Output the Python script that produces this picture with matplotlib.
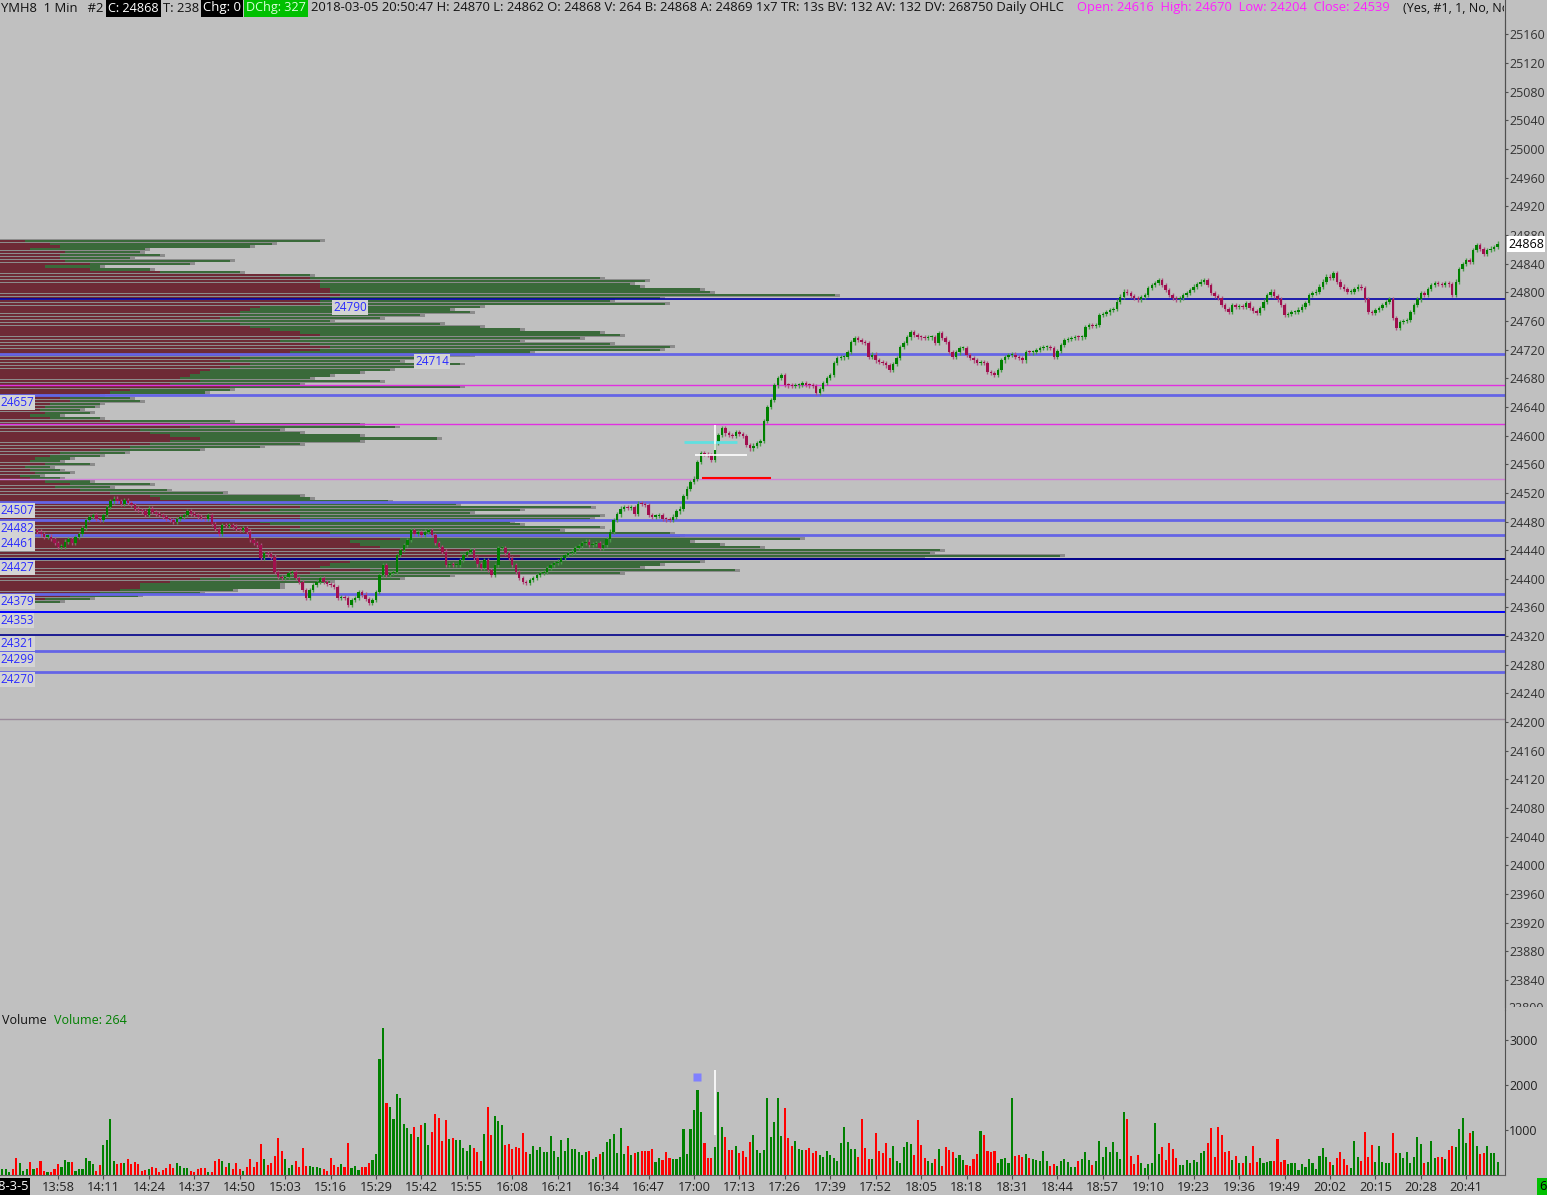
import numpy as np
import matplotlib.pyplot as plt
from matplotlib.patches import Rectangle
from matplotlib.transforms import Bbox, TransformedBbox, IdentityTransform

plt.rcParams['font.family'] = ['Open Sans', 'DejaVu Sans']

# ---- data --------------------------------------------------------------
first_open = 24460
closes = [
    24462, 24465, 24468, 24464, 24460, 24463, 24466, 24470, 24467, 24468,
    24466, 24462, 24459, 24459, 24456, 24450, 24445, 24445, 24452, 24455,
    24450, 24458, 24463, 24471, 24482, 24486, 24489, 24484, 24482, 24489,
    24500, 24508, 24512, 24509, 24505, 24510, 24506, 24503, 24498, 24496,
    24494, 24489, 24498, 24493, 24491, 24489, 24486, 24484, 24482, 24480,
    24484, 24486, 24489, 24494, 24491, 24489, 24487, 24485, 24484, 24489,
    24477, 24470, 24463, 24475, 24474, 24475, 24473, 24470, 24468, 24471,
    24466, 24454, 24450, 24447, 24429, 24436, 24434, 24431, 24410, 24403,
    24401, 24403, 24408, 24410, 24401, 24396, 24384, 24373, 24384, 24391,
    24396, 24401, 24396, 24393, 24391, 24389, 24373, 24375, 24373, 24364,
    24370, 24373, 24382, 24378, 24372, 24366, 24370, 24382, 24405, 24419,
    24405, 24408, 24410, 24433, 24440, 24447, 24454, 24468, 24463, 24465,
    24461, 24466, 24468, 24461, 24450, 24444, 24438, 24419, 24421, 24419,
    24419, 24426, 24433, 24437, 24440, 24429, 24420, 24415, 24426, 24412,
    24405, 24419, 24443, 24443, 24436, 24429, 24419, 24410, 24401, 24396,
    24394, 24398, 24401, 24405, 24408, 24410, 24415, 24419, 24422, 24424,
    24429, 24433, 24436, 24438, 24443, 24446, 24450, 24452, 24447, 24449,
    24450, 24443, 24447, 24455, 24466, 24482, 24490, 24498, 24500, 24499,
    24500, 24491, 24505, 24504, 24503, 24489, 24487, 24488, 24489, 24484,
    24483, 24482, 24487, 24494, 24498, 24515, 24526, 24535, 24540, 24563,
    24575, 24574, 24573, 24566, 24590, 24601, 24610, 24603, 24601, 24599,
    24605, 24602, 24599, 24587, 24582, 24586, 24589, 24592, 24620, 24640,
    24650, 24670, 24680, 24685, 24671, 24670, 24669, 24670, 24671, 24673,
    24671, 24670, 24669, 24660, 24665, 24673, 24680, 24685, 24701, 24708,
    24709, 24710, 24717, 24730, 24736, 24733, 24731, 24729, 24710, 24713,
    24705, 24703, 24701, 24698, 24692, 24700, 24708, 24724, 24729, 24737,
    24745, 24740, 24738, 24737, 24736, 24737, 24738, 24729, 24743, 24736,
    24731, 24717, 24710, 24716, 24722, 24722, 24712, 24708, 24705, 24701,
    24703, 24701, 24689, 24687, 24685, 24692, 24705, 24710, 24712, 24713,
    24710, 24708, 24705, 24717, 24716, 24717, 24719, 24722, 24723, 24724,
    24722, 24710, 24718, 24726, 24733, 24735, 24736, 24738, 24737, 24738,
    24752, 24754, 24753, 24754, 24768, 24770, 24772, 24775, 24777, 24787,
    24794, 24801, 24799, 24795, 24792, 24790, 24793, 24796, 24806, 24810,
    24813, 24817, 24810, 24803, 24796, 24792, 24790, 24792, 24796, 24799,
    24803, 24808, 24812, 24815, 24817, 24810, 24799, 24795, 24792, 24782,
    24777, 24773, 24782, 24780, 24781, 24780, 24785, 24778, 24774, 24771,
    24778, 24787, 24796, 24801, 24795, 24790, 24782, 24768, 24770, 24773,
    24773, 24776, 24780, 24785, 24796, 24799, 24801, 24808, 24815, 24822,
    24820, 24827, 24815, 24808, 24805, 24801, 24801, 24805, 24808, 24806,
    24790, 24773, 24771, 24775, 24778, 24782, 24786, 24790, 24764, 24750,
    24759, 24760, 24761, 24773, 24782, 24790, 24799, 24796, 24805, 24810,
    24813, 24812, 24810, 24813, 24811, 24796, 24815, 24833, 24840, 24845,
    24843, 24859, 24866, 24860, 24854, 24859, 24861, 24863, 24868,
]

volumes = [
    126, 126, 74, 126, 370, 259, 96, 141, 281, 126,
    148, 311, 89, 59, 59, 133, 244, 170, 333, 281,
    281, 96, 126, 126, 370, 311, 252, 96, 222, 666,
    777, 1243, 311, 244, 259, 274, 348, 244, 289, 244,
    89, 111, 126, 185, 148, 74, 111, 148, 244, 163,
    274, 200, 148, 163, 96, 74, 126, 148, 148, 74,
    59, 311, 355, 311, 170, 259, 126, 259, 133, 96,
    185, 348, 185, 281, 688, 355, 222, 259, 422, 829,
    533, 348, 148, 215, 311, 170, 592, 200, 207, 170,
    170, 148, 126, 89, 370, 222, 185, 237, 170, 703,
    148, 200, 111, 185, 185, 274, 333, 459, 2568, 3256,
    1591, 1517, 1243, 1791, 1702, 1125, 1036, 910, 1073, 851,
    1110, 1147, 666, 962, 1347, 1273, 762, 1221, 792, 814,
    777, 777, 607, 540, 666, 592, 518, 311, 903, 1517,
    888, 1310, 1206,
    1110, 666, 688, 577, 629, 592, 925, 503, 466, 644,
    555, 614, 511, 511, 866, 540, 400, 777, 533, 821,
    570, 570, 503, 437, 503, 525, 355, 400, 459, 511,
    733, 799, 903, 481, 1043, 466, 636, 451, 488, 503,
    525, 533, 533, 570, 281, 377, 333, 518, 370, 348,
    348, 392, 1021, 459, 1021, 1443, 1887, 1406, 703, 377,
    377, 622, 1843, 1066, 836, 555, 562, 644, 481, 533,
    407, 733, 881, 555, 488, 562, 1709, 836, 1184, 1709,
    866, 1480, 814, 644, 755, 577, 555, 555, 599, 481,
    540, 437, 400, 540, 444, 377, 318, 703, 1066, 725,
    577, 570, 392, 1243, 599, 355, 355, 932, 540, 488,
    710, 377, 644, 311, 274, 622, 733, 681, 444, 1221,
    659, 370, 311, 259, 355, 577, 200, 614, 555, 511,
    370, 444, 333, 229, 207, 348, 466, 977, 888, 533,
    511, 533, 259,
    355, 370, 259, 1717, 422, 444, 407, 466, 370, 355,
    340, 303, 533, 311, 207, 237, 200, 311, 355, 289,
    185, 185, 303, 348, 503, 333, 229, 318, 755, 407,
    622, 518, 725, 518, 348, 1391, 1243, 429, 244, 444,
    266, 148, 244, 259, 1154, 466, 629, 326, 718, 570,
    370, 229, 215, 326, 259, 333, 296, 481, 540, 710,
    1043, 400, 1058, 888, 518, 540, 333, 422, 259, 259,
    422, 259, 651, 296, 377, 259, 289, 318, 318, 792,
    296, 333, 244, 259, 259, 111, 244, 185, 355, 259,
    133, 422, 592, 392, 296, 222, 370, 518, 348, 222,
    163, 755, 400, 303, 947, 392, 659, 296, 651, 281,
    274, 266, 932, 481, 481, 377, 518, 259, 392, 844,
    681, 274, 281, 762, 370, 392, 392, 363, 555, 644,
    614, 1014, 1258, 703, 925, 969, 651, 459, 481, 636,
    496, 496, 281,
]

time_labels = ['13:58', '14:11', '14:24', '14:37', '14:50', '15:03', '15:16', '15:29',
               '15:42', '15:55', '16:08', '16:21', '16:34', '16:47', '17:00', '17:13',
               '17:26', '17:39', '17:52', '18:05', '18:18', '18:31', '18:44', '18:57',
               '19:10', '19:23', '19:36', '19:49', '20:02', '20:15', '20:28', '20:41']
first_label_bar = 16
label_step = 13

# volume profile, 4-point rows from 24872 down to 24368
profile_top = 24872
profile_total = [
    320, 272, 250, 145, 140, 160, 130, 230, 190, 100,
    150, 240, 310, 600, 645, 630, 640, 700, 710, 835,
    660, 610, 665, 480, 450, 470, 420, 380, 330, 440,
    480, 520, 600, 620, 580, 520, 610, 670, 660, 530,
    470, 440, 400, 460, 430, 390, 360, 330, 310, 380,
    300, 460, 230, 205, 100, 130, 140, 100, 95, 80,
    90, 60, 100, 230, 360, 395, 280, 300, 360, 437,
    360, 300, 260, 200, 125, 100, 70, 60, 90, 50,
    60, 70, 40, 60, 90, 150, 110, 167, 223, 300,
    310, 388, 456, 591, 520, 470, 600, 590, 510, 520,
    600, 560, 670, 680, 800, 690, 720, 760, 940, 930,
    1060, 920, 700, 660, 640, 735, 620, 450, 400, 330,
    280, 280, 233, 200, 138, 90, 60,
]
profile_sell = [
    25, 50, 60, 30, 65, 60, 60, 65, 90, 45,
    90, 160, 280, 310, 320, 320, 320, 330, 330, 340,
    330, 320, 320, 260, 250, 240, 240, 220, 200, 240,
    250, 270, 300, 320, 300, 280, 310, 330, 320, 290,
    260, 240, 220, 250, 230, 210, 200, 190, 180, 200,
    170, 230, 130, 110, 50, 60, 70, 50, 45, 40,
    45, 30, 50, 110, 170, 190, 140, 150, 170, 200,
    170, 150, 130, 100, 60, 50, 35, 30, 45, 25,
    30, 35, 20, 30, 45, 70, 55, 80, 110, 150,
    160, 190, 230, 300, 270, 240, 300, 300, 260, 270,
    300, 290, 330, 340, 400, 350, 360, 380, 470, 460,
    520, 460, 350, 330, 320, 370, 310, 230, 200, 170,
    140, 140, 120, 100, 70, 45, 30,
]

# key levels: (price, colour, width, label x in px)
levels = [
    (24790, '#0000a8', 1.2, 333),
    (24714, '#6464e6', 2.0, 415),
    (24657, '#6464e6', 2.0, 0),
    (24507, '#6464e6', 2.0, 0),
    (24482, '#6464e6', 2.0, 0),
    (24461, '#6464e6', 2.0, 0),
    (24427, '#00008b', 1.4, 0),
    (24379, '#6464e6', 2.0, 0),
    (24353, '#0000ff', 1.4, 0),
    (24321, '#00008b', 1.2, 0),
    (24299, '#6464e6', 2.0, 0),
    (24270, '#6464e6', 2.0, 0),
]
daily_ohlc = {'Open': 24616, 'High': 24670, 'Low': 24204, 'Close': 24539}
last_price = 24868
last_volume = 264

# ---- figure ------------------------------------------------------------
W, H = 1547, 1195
BG = '#c0c0c0'
fig = plt.figure(figsize=(W / 100, H / 100), dpi=100)
fig.patch.set_facecolor(BG)


def rect(x0, y0, x1, y1):
    return [x0 / W, 1 - y1 / H, (x1 - x0) / W, (y1 - y0) / H]


def fx(x):
    return x / W


def fy(y):
    return 1 - y / H


P_LO, P_HI = 23802.2, 25180.2
X_LO, X_HI = -0.6, 430.1

# profile behind everything
ax_prof = fig.add_axes(rect(0, 20, 1505, 1007))
ax_prof.set_xlim(0, 1505)
ax_prof.set_ylim(P_LO, P_HI)
ax_prof.axis('off')
rows = profile_top - 4 * np.arange(len(profile_total))
tot = np.array(profile_total)
sell = np.array(profile_sell)
ax_prof.barh(rows, tot + 5, height=4, color='#8c8c8c', lw=0)
ax_prof.barh(rows, sell, height=3.1, color='#6e2a36', lw=0)
ax_prof.barh(rows, tot - sell, left=sell, height=3.1, color='#3a6a3a', lw=0)

# price pane
ax = fig.add_axes(rect(0, 20, 1505, 1007))
ax.set_facecolor('none')
ax.set_xlim(X_LO, X_HI)
ax.set_ylim(P_LO, P_HI)
for s in ['left', 'top', 'bottom']:
    ax.spines[s].set_visible(False)
ax.spines['right'].set_color('#505050')
ax.set_xticks([])
ax.yaxis.tick_right()
ax.set_yticks(np.arange(23840, 25161, 40))
ax.tick_params(axis='y', direction='out', length=2, width=0.8, pad=1,
               labelsize=9, labelcolor='#333333', color='#505050')

c = np.array(closes, dtype=float)
o = np.r_[first_open, c[:-1]]
x = np.arange(len(c))
up = c >= o
WICK = 3.0
top = np.maximum(o, c)
bot = np.minimum(o, c)
ax.vlines(x[up], bot[up] - WICK, top[up] + WICK, color='#4a9a4a', lw=1, zorder=3)
ax.vlines(x[~up], bot[~up] - WICK, top[~up] + WICK, color='#b0507e', lw=1, zorder=3)
ax.bar(x, np.maximum(top - bot, 1.5), bottom=bot, width=0.7,
       color=np.where(up, '#008000', '#a0104e'), lw=0, zorder=4)

for name, p in daily_ohlc.items():
    col = '#9a8a9a' if name == 'Low' else ('#d080d8' if name == 'Close' else '#e030e0')
    ax.axhline(p, color=col, lw=1, zorder=2)

for p, col, lw, lx in levels:
    ax.axhline(p, color=col, lw=lw, zorder=2)
    ax.annotate(str(p), xy=(lx / 1505, p), xycoords=ax.get_yaxis_transform(),
                xytext=(0, -8), textcoords='offset pixels', va='center', ha='left',
                fontsize=8.5, color='#2a2aff', zorder=6,
                bbox=dict(boxstyle='square,pad=0.08', fc='#d4d4d4', ec='none'))

# small markers around 17:00
ax.hlines(24591, 195.2, 210.3, color='#60e0e0', lw=2, zorder=5)
ax.vlines(204, 24580, 24615, color='white', lw=1.2, zorder=5)
ax.hlines(24573, 198.3, 213.2, color='white', lw=1.2, zorder=5)
ax.hlines(24541, 200.3, 220.0, color='#ff0000', lw=1.5, zorder=5)

# volume pane
axv = fig.add_axes(rect(0, 1010, 1505, 1175))
axv.set_facecolor('none')
axv.set_xlim(X_LO, X_HI)
axv.set_ylim(0, 3667)
vol = np.array(volumes)
axv.bar(np.arange(len(vol)), vol, width=0.6,
        color=np.where(up[:len(vol)], '#008000', '#ff0000'), lw=0)
axv.vlines(204, 889, 2333, color='white', lw=1.2)
axv.plot([199], [2178], marker='s', ms=6, color='#8080ff', mec='none')
for s in ['left', 'top']:
    axv.spines[s].set_visible(False)
axv.spines['right'].set_color('#505050')
axv.spines['bottom'].set_color('#606060')
axv.yaxis.tick_right()
axv.set_yticks([1000, 2000, 3000])
axv.set_xticks(first_label_bar + label_step * np.arange(len(time_labels)))
axv.set_xticklabels(time_labels)
axv.tick_params(axis='y', direction='out', length=2, width=0.8, pad=1,
                labelsize=9, labelcolor='#222222', color='#505050')
axv.tick_params(axis='x', direction='out', length=3, width=0.8, pad=1,
                labelsize=9.3, labelcolor='#222222', color='#505050')

# separator line on the right, full height
fig.add_artist(plt.Line2D([fx(1505), fx(1505)], [fy(0), fy(1010)], color='#505050', lw=0.8))

# clipped 23800 label between panes
clip = TransformedBbox(Bbox.from_extents(1500, H - 1007, W, H - 990), IdentityTransform())
t = fig.text(fx(1508), fy(1009), '23800', fontsize=9, color='#333333', va='center')
t.set_clip_box(clip)
t.set_clip_on(True)

# last price box
fig.text(fx(1508), fy(244), str(last_price), fontsize=9, color='black', va='center',
         bbox=dict(boxstyle='square,pad=0.1', fc='white', ec='none'), zorder=5)

# ---- header ------------------------------------------------------------
renderer = fig.canvas.get_renderer()


def label(xp, yp, s, width=None, **kw):
    tt = fig.text(fx(xp), fy(yp), s, ha='left', va='center', fontsize=9, **kw)
    if width:
        w = tt.get_window_extent(renderer).width
        tt.set_fontsize(tt.get_fontsize() * width / w)
    return tt


for x0, x1, col in [(106, 161, 'black'), (201, 243, 'black'), (244, 308, '#00c000')]:
    fig.add_artist(Rectangle((fx(x0), fy(17)), (x1 - x0) / W, 17 / H, color=col, lw=0))

label(1, 8, 'YMH8  1 Min   #2', width=103, color='#111111')
label(108, 8, f'C: {last_price}', width=51, color='white')
label(163, 8, 'T: 238', width=36, color='#111111')
label(203, 8, 'Chg: 0', width=38, color='white')
label(246, 8, 'DChg: 327', width=60, color='#d8ffd8')
label(311, 8, '2018-03-05 20:50:47 H: 24870 L: 24862 O: 24868 V: 264 B: 24868 A: 24869 '
              '1x7 TR: 13s BV: 132 AV: 132 DV: 268750 Daily OHLC', width=758, color='#111111')
label(1077, 8, '  '.join(f'{k}: {v}' for k, v in daily_ohlc.items()), width=314,
      color='#ff20ff')
tail = label(1403, 8, '(Yes, #1, 1, No, No, No)', color='#111111')
tail.set_clip_box(TransformedBbox(Bbox.from_extents(0, 0, 1504, H), IdentityTransform()))
tail.set_clip_on(True)

# volume title
label(2, 1020, 'Volume', color='#111111')
label(54, 1020, f'Volume: {last_volume}', color='#008000')

# bottom corner boxes
fig.add_artist(Rectangle((0, 0), fx(30), 17 / H, color='black', lw=0))
fig.text(fx(29), fy(1187), '2018-3-5', ha='right', va='center', fontsize=9.3, color='white')
fig.add_artist(Rectangle((fx(1537), 0), fx(10), 17 / H, color='#00c000', lw=0))
fig.text(fx(1539), fy(1187), '6', ha='left', va='center', fontsize=9.3, color='black')

fig.savefig('out.png', dpi=100, facecolor=BG)
